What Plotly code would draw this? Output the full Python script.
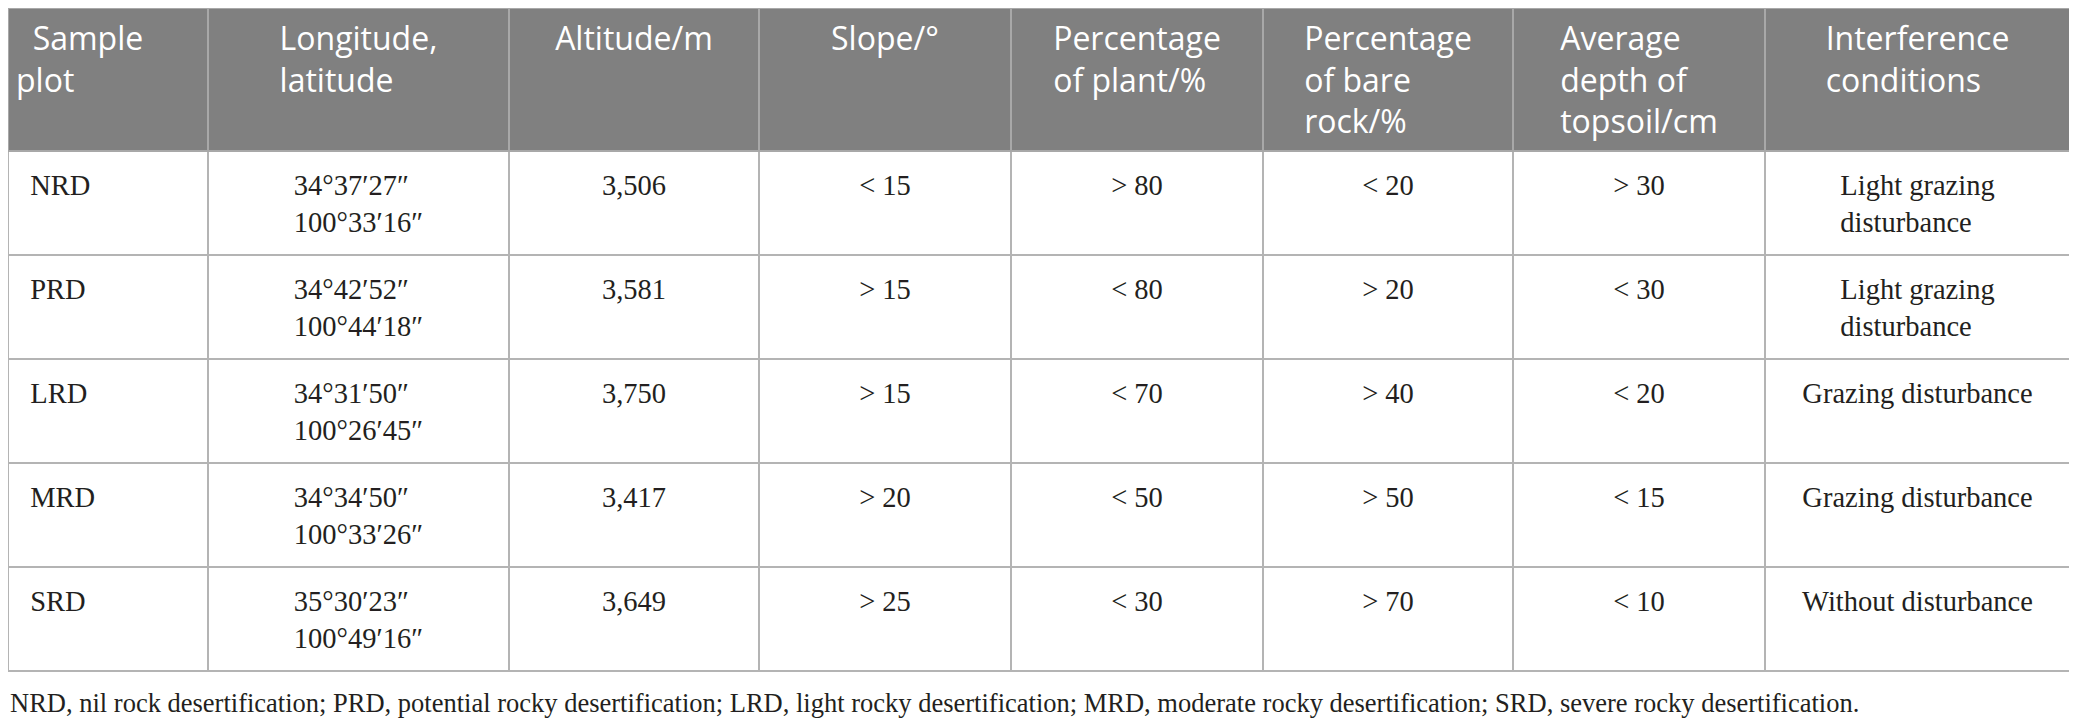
import plotly.graph_objects as go

# table contents
header_labels = ["Sample<br>plot", "Longitude,<br>latitude", "Altitude/m", "Slope/°",
                 "Percentage<br>of plant/%", "Percentage<br>of bare<br>rock/%",
                 "Average<br>depth of<br>topsoil/cm", "Interference<br>conditions"]
sample_plots = ["NRD", "PRD", "LRD", "MRD", "SRD"]
latitudes = ["34°37′27″", "34°42′52″", "34°31′50″", "34°34′50″", "35°30′23″"]
longitudes = ["100°33′16″", "100°44′18″", "100°26′45″", "100°33′26″", "100°49′16″"]
altitudes = ["3,506", "3,581", "3,750", "3,417", "3,649"]
slopes = ["&lt; 15", "&gt; 15", "&gt; 15", "&gt; 20", "&gt; 25"]
plant_pct = ["&gt; 80", "&lt; 80", "&lt; 70", "&lt; 50", "&lt; 30"]
rock_pct = ["&lt; 20", "&gt; 20", "&gt; 40", "&gt; 50", "&gt; 70"]
topsoil_depth = ["&gt; 30", "&lt; 30", "&lt; 20", "&lt; 15", "&lt; 10"]
interference = ["Light grazing<br>disturbance", "Light grazing<br>disturbance",
                "Grazing disturbance", "Grazing disturbance", "Without disturbance"]
footnote = ("NRD, nil rock desertification; PRD, potential rocky desertification; "
            "LRD, light rocky desertification; MRD, moderate rocky desertification; "
            "SRD, severe rocky desertification.")

col_widths = [200, 301, 250, 252, 252, 250, 252, 305]


def multiline(texts):
    # plotly sets one-line cells a little higher than wrapped ones,
    # so give every cell at least two lines to keep baselines level
    return [t if "<br>" in t else t + "<br> " for t in texts]


coords = [a + "<br>" + b for a, b in zip(latitudes, longitudes)]
plots = ["  " + s for s in sample_plots]
body = [multiline(plots), coords, multiline(altitudes), multiline(slopes),
        multiline(plant_pct), multiline(rock_pct),
        multiline(topsoil_depth), multiline(interference)]
n_rows = len(sample_plots)
clear = "rgba(0,0,0,0)"

# page body has an 8px margin, so the figure is a bit smaller than the window
W, H = 2069, 716
x_dom = [0, 2062 / W]
header_h, row_h = 143, 104
text_drop = 11  # body text sits lower in its cell than plotly's fixed padding

fig = go.Figure()

# grid, fills and header
fig.add_trace(go.Table(
    columnwidth=col_widths,
    domain=dict(x=x_dom, y=[0, 1]),
    header=dict(
        values=multiline(["  " + header_labels[0]] + header_labels[1:]),
        fill_color="#808080",
        line=dict(color="#a8a8a8", width=2),
        align=["left"] + ["center"] * 7,
        font=dict(family="Open Sans", size=32, color="white"),
        height=header_h,
    ),
    cells=dict(
        values=[[""] * n_rows for _ in col_widths],
        fill_color="white",
        line=dict(color="#b4b4b4", width=2),
        height=row_h,
    ),
))

# body text, laid over the grid; an invisible header pushes it down a little
fig.add_trace(go.Table(
    columnwidth=col_widths,
    domain=dict(x=x_dom, y=[0, 1]),
    header=dict(
        values=[""] * len(col_widths),
        fill_color=clear,
        line=dict(color=clear, width=0),
        height=header_h + text_drop,
    ),
    cells=dict(
        values=body,
        fill_color=clear,
        line=dict(color=clear, width=0),
        align=["left"] + ["center"] * 7,
        font=dict(family="Liberation Serif", size=28.5, color="#231f20"),
        height=row_h,
    ),
))

fig.add_annotation(
    text=footnote, xref="paper", yref="paper", x=0, y=1 - 695 / H,
    xanchor="left", yanchor="middle", showarrow=False,
    font=dict(family="Liberation Serif", size=26.5, color="#231f20"),
)

fig.update_layout(width=W, height=H, margin=dict(l=0, r=0, t=0, b=0),
                  paper_bgcolor="white", plot_bgcolor="white")

fig.write_html("out.html")
